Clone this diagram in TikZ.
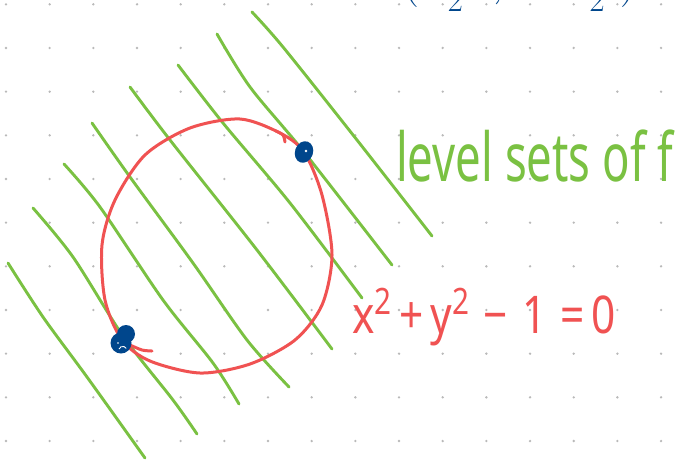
\RequirePackage{fix-cm}
\documentclass[tikz,border=0pt]{standalone}
\usepackage{amsmath}
\usepackage{fontspec}
\newfontfamily\handfont{Noto Sans}
\usetikzlibrary{shapes.geometric}
\definecolor{lvgreen}{RGB}{122,193,66}
\definecolor{lvred}{RGB}{240,82,82}
\definecolor{lvblue}{RGB}{0,70,140}
\definecolor{griddot}{RGB}{185,185,185}
\tikzset{
  levelline/.style={lvgreen,line width=2.9pt,line cap=round,line join=round},
  circline/.style={lvred,line width=3pt,line cap=round,line join=round},
}
\begin{document}
\begin{tikzpicture}[x=1pt,y=-1pt]
\useasboundingbox (0,0) rectangle (687,459);
\fill[white] (0,0) rectangle (687,459);
% dot grid
\foreach \i in {0,...,15}
  \foreach \j in {0,...,10}
    \fill[griddot] ({6+43.67*\i},{4.3+43.67*\j}) circle (1.3);
% level sets
\draw[levelline] plot[smooth] coordinates {(252,12) (283,47) (357,140) (432,236)};
\draw[levelline] plot[smooth] coordinates {(217,34) (250,87) (304,152) (392,265)};
\draw[levelline] plot[smooth] coordinates {(178,65) (223,123) (290,203) (362,298)};
\draw[levelline] plot[smooth] coordinates {(130,87) (170,140) (257,250) (332,349)};
\draw[levelline] plot[smooth] coordinates {(92,123) (130,177) (193,263) (247,340) (289,387)};
\draw[levelline] plot[smooth] coordinates {(64,164) (100,207) (163,300) (213,363) (239,404)};
\draw[levelline] plot[smooth] coordinates {(33,208) (73,257) (123,336) (173,400) (197,434)};
\draw[levelline] plot[smooth] coordinates {(8,263) (43,317) (87,377) (145,458)};
% constraint circle
\draw[circline] plot[smooth cycle] coordinates {(240,119) (280,133) (304,152) (322,195) (332,255) (322,305) (295,340) (250,364) (200,373) (150,361) (122,340) (105,300) (102,245) (115,200) (145,155) (190,128)};
\draw[circline] plot[smooth] coordinates {(276,131) (283,135) (285,142)};
\draw[circline] plot[smooth] coordinates {(130,345) (142,350) (152,351)};
% tangency points
\node[ellipse, fill=lvblue, inner sep=0pt, minimum width=18pt, minimum height=22pt, rotate=-20] (ptA) at (304,152) {};
\fill[white] (306,151) circle (1.4);
\node[circle, fill=lvblue, inner sep=0pt, minimum size=21pt] (ptB) at (121,343) {};
\node[circle, fill=lvblue, inner sep=0pt, minimum size=18pt] (ptC) at (126,334) {};
\draw[white, line width=0.9pt] (119,349) arc[start angle=200, end angle=330, radius=4];
\fill[white] (118,343) circle (0.9);
% labels
\node[lvgreen, anchor=base west, inner sep=0pt, font=\handfont\fontsize{50}{52}\selectfont] (lbl) at (396,181) {\scalebox{0.91}[1.35]{level sets of f}};
\node[lvred, anchor=base west, inner sep=0pt, font=\handfont\fontsize{40}{42}\selectfont] (eq) at (352,333) {\scalebox{1.06}[1.3]{x\textsuperscript{2}\,+\,y\textsuperscript{2}\,\,−\,\,1\,\,=\,0}};
\begin{scope}
\clip (0,0) rectangle (687,459);
\node[lvblue, anchor=south west, inner sep=0pt, font=\fontsize{48}{50}\selectfont] (pt) at (402,12) {$(\;\tfrac{\sqrt2}{2}\;,\quad\;\tfrac{\sqrt2}{2})$};
\end{scope}
\end{tikzpicture}
\end{document}
